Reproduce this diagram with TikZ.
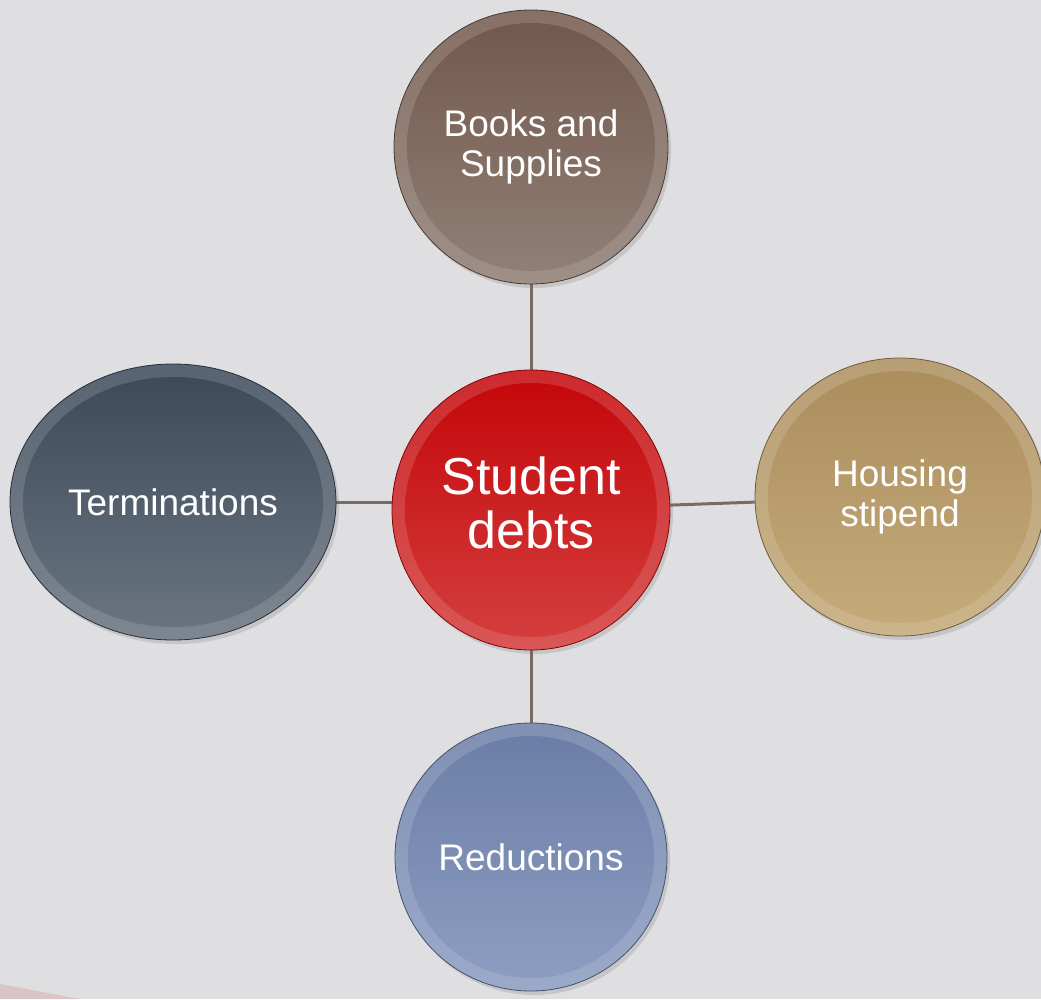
\documentclass[tikz,border=0pt]{standalone}
\usepackage{fontspec}
\setmainfont{Liberation Sans}
\usetikzlibrary{shapes.geometric,shadows}
\pgfdeclarelayer{bg}
\pgfdeclarelayer{edges}
\pgfsetlayers{bg,edges,main}
\definecolor{bgc}{HTML}{DFDFE1}
\definecolor{pinkc}{HTML}{DCC4C6}
\definecolor{linec}{HTML}{7A6B62}
\definecolor{bkT}{HTML}{72574B}\definecolor{bkB}{HTML}{918177}
\definecolor{sdT}{HTML}{C40509}\definecolor{sdB}{HTML}{D4403F}
\definecolor{hsT}{HTML}{AB8D5C}\definecolor{hsB}{HTML}{C5AB7B}
\definecolor{tmT}{HTML}{3A4858}\definecolor{tmB}{HTML}{6C7682}
\definecolor{rdT}{HTML}{6A7DA6}\definecolor{rdB}{HTML}{8E9EC2}
\tikzset{
  bubble/.style n args={4}{ellipse, inner sep=0pt, align=center, text=white,
    minimum width=2*#1, minimum height=2*#2,
    draw=#3!65!black, line width=0.8pt,
    top color=#3!85!white, bottom color=#4!88!white,
    drop shadow={shadow xshift=3pt, shadow yshift=-4pt, opacity=0.2, fill=black!60},
    path picture={\shade[top color=#3, bottom color=#4]
      (path picture bounding box.center) ellipse [x radius=#1-13, y radius=#2-13];}},
  lbl/.style={font=\fontsize{37}{40}\selectfont},
  bigl/.style={font=\fontsize{52}{56}\selectfont},
  conn/.style={draw=linec, line width=3pt}
}
\begin{document}
\begin{tikzpicture}[x=1pt,y=-1pt]
\useasboundingbox (0,0) rectangle (1041,999);
\begin{pgfonlayer}{bg}
\fill[bgc] (0,0) rectangle (1041,999);
\fill[pinkc] (0,984) -- (80,999) -- (0,999) -- cycle;
\end{pgfonlayer}
\node[bubble={137}{137}{bkT}{bkB}, lbl] (books) at (531,147) {Books and\\Supplies};
\node[bubble={139}{140}{sdT}{sdB}, bigl] (center) at (531,510)
  {\raisebox{10pt}{\begin{tabular}{@{}c@{}}Student\\[-2pt]debts\end{tabular}}};
\node[bubble={145}{139}{hsT}{hsB}, lbl] (housing) at (900,497) {Housing\\stipend};
\node[bubble={163}{138}{tmT}{tmB}, lbl] (term) at (173,502) {Terminations};
\node[bubble={136}{134}{rdT}{rdB}, lbl] (red) at (531,857) {Reductions};
\begin{pgfonlayer}{edges}
\draw[conn] (center) -- (books);
\draw[conn] (center) -- (red);
\draw[conn] (center.center) ++(0,-8) coordinate (cL) (cL) -- (term.center |- cL);
\draw[conn] (center) -- (housing);
\end{pgfonlayer}
\end{tikzpicture}
\end{document}
